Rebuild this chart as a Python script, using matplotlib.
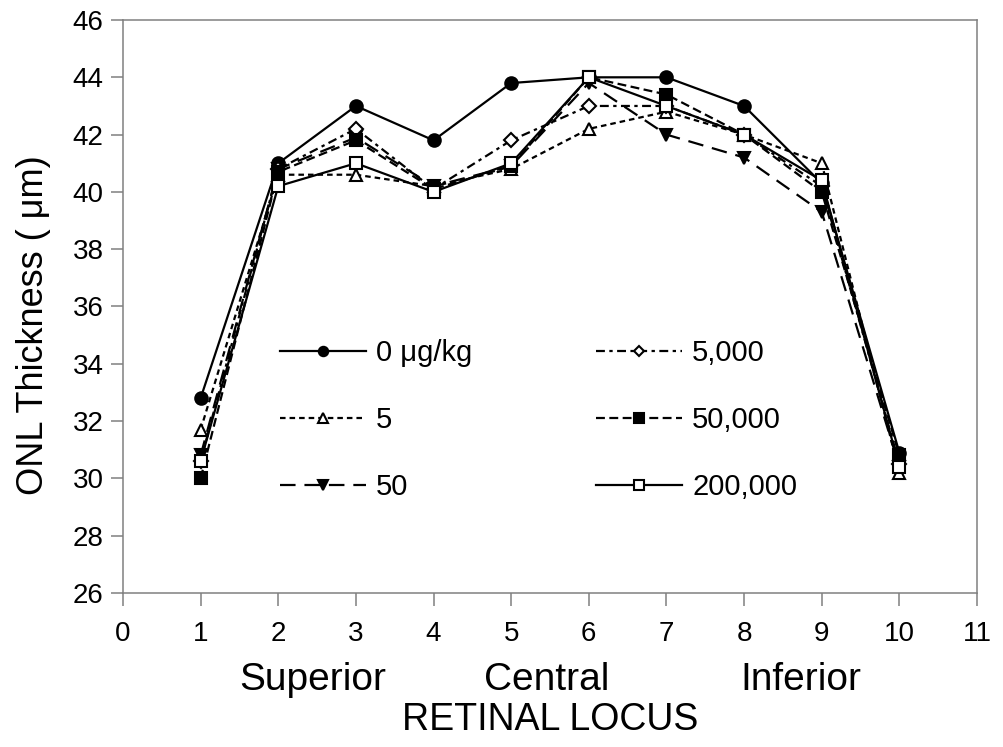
import matplotlib
matplotlib.use("Agg")
import matplotlib.pyplot as plt
import matplotlib.transforms as mtransforms

plt.rcParams['font.family'] = ['Liberation Sans', 'DejaVu Sans']

# retinal locus positions and ONL thickness per dose group
locus = [1, 2, 3, 4, 5, 6, 7, 8, 9, 10]
onl_0 = [32.8, 41.0, 43.0, 41.8, 43.8, 44.0, 44.0, 43.0, 40.3, 30.9]
onl_5 = [31.7, 40.6, 40.6, 40.2, 40.8, 42.2, 42.8, 42.0, 41.0, 30.2]
onl_50 = [30.8, 40.8, 41.9, 40.2, 40.9, 43.8, 42.0, 41.2, 39.3, 30.4]
onl_5000 = [30.6, 40.8, 42.2, 40.1, 41.8, 43.0, 43.0, 42.0, 40.2, 30.5]
onl_50000 = [30.0, 40.7, 41.8, 40.1, 40.9, 44.0, 43.4, 42.0, 40.0, 30.8]
onl_200000 = [30.6, 40.2, 41.0, 40.0, 41.0, 44.0, 43.0, 42.0, 40.4, 30.4]

dose_labels = ['0 μg/kg', '5', '50', '5,000', '50,000', '200,000']
region_names = ['Superior', 'Central', 'Inferior']
region_pos = [2.45, 5.46, 8.73]

fig = plt.figure(figsize=(10.04, 7.47), dpi=100)
ax = fig.add_axes([0.1225, 0.2062, 0.8506, 0.767])

# (data, marker, facecolor, linestyle)
styles = [
    (onl_0, 'o', 'black', '-'),
    (onl_5, '^', 'white', (0, (2.5, 1.8))),
    (onl_50, 'v', 'black', (0, (7, 4))),
    (onl_5000, 'D', 'white', (0, (4, 2, 1.5, 2))),
    (onl_50000, 's', 'black', (0, (4, 2))),
    (onl_200000, 's', 'white', '-'),
]

for (vals, mk, fc, ls), lab in zip(styles, dose_labels):
    ms = 9 if mk != 'D' else 7
    ax.plot(locus, vals, color='black', lw=1.6, linestyle=ls, marker=mk,
            markersize=ms, markerfacecolor=fc, markeredgecolor='black',
            markeredgewidth=1.5, label=lab)

ax.set_xlim(0, 11)
ax.set_ylim(26, 46)
ax.set_xticks(range(0, 12))
ax.set_yticks(range(26, 47, 2))
ax.tick_params(axis='both', direction='out', length=9, width=1.1,
               color='#808080', labelsize=20)
ax.tick_params(axis='x', pad=11)
ax.tick_params(axis='y', pad=5)
for sp in ax.spines.values():
    sp.set_color('#808080')
    sp.set_linewidth(1.1)

ax.set_ylabel('ONL Thickness ( μm)', fontsize=26)
ax.yaxis.set_label_coords(-0.084, 0.468)
ax.set_xlabel('RETINAL LOCUS', fontsize=27, va='top')
ax.xaxis.set_label_coords(0.5, -0.19)

trans = mtransforms.blended_transform_factory(ax.transData, ax.transAxes)
for name, pos in zip(region_names, region_pos):
    ax.text(pos, -0.152, name, transform=trans, fontsize=28,
            ha='center', va='center')

ax.legend(ncol=2, frameon=False, fontsize=21, loc='upper left',
          bbox_to_anchor=(0.279, 0.546), bbox_transform=fig.transFigure,
          borderpad=0, borderaxespad=0, handlelength=2.95, handletextpad=0.34,
          columnspacing=4.25, labelspacing=1.33, markerscale=0.75)

fig.savefig('out.png', dpi=100)
